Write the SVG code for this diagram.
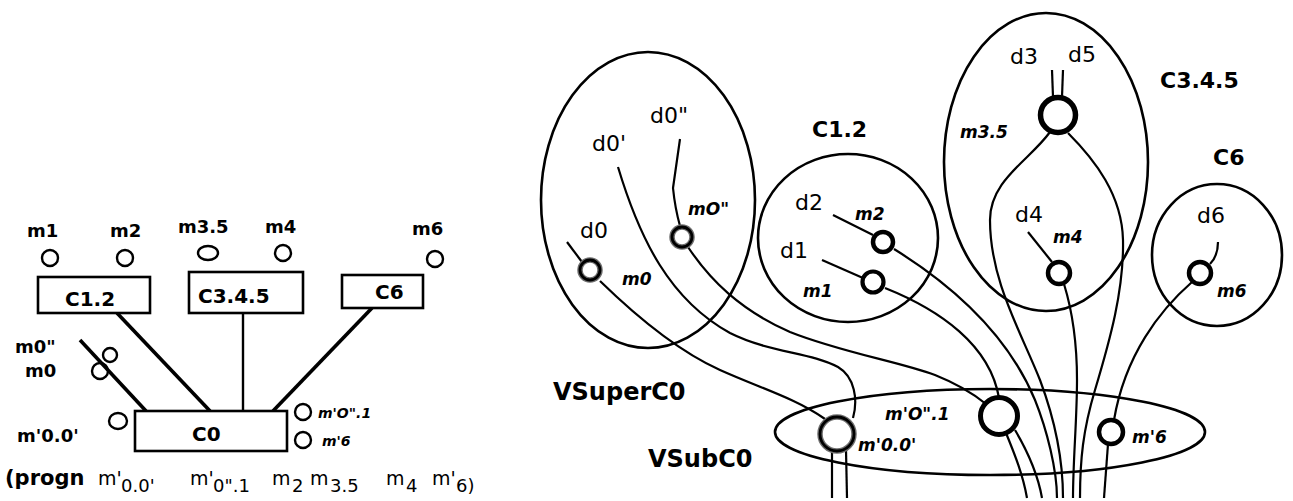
<svg xmlns="http://www.w3.org/2000/svg" width="1293" height="501" viewBox="0 0 1293 501">
<style>
text{font-family:"DejaVu Sans","Liberation Sans",sans-serif;fill:#000}
.lb{font-weight:bold;font-size:18px}
.bx{font-weight:bold;font-size:20px}
.si{font-weight:bold;font-style:italic;font-size:14px}
.d{font-size:22px}
.it{font-weight:bold;font-style:italic;font-size:17px}
.big{font-weight:bold;font-size:24px}
.cl{font-weight:bold;font-size:22px}
.pg{font-size:19px}
.ps{font-size:18px}
.pb{font-weight:bold;font-size:21px}
.box{fill:#fff;stroke:#000;stroke-width:2.6}
.e{fill:none;stroke:#000;stroke-width:2.6}
.ln{fill:none;stroke:#000;stroke-width:2.2}
.th{fill:none;stroke:#000;stroke-width:3.6}
.c{fill:#fff;stroke:#000;stroke-width:2.4}
.co{fill:none;stroke:#000;stroke-width:2.4}
.k{fill:#fff;stroke:#000}
.g1{fill:#fff;stroke:#6e6e6e;stroke-width:5.5}
.g2{fill:none;stroke:#000;stroke-width:2.8}
</style>
<rect width="1293" height="501" fill="#fff"/>

<!-- ===== Left diagram ===== -->
<g id="left-connectors">
<line class="th" x1="117" y1="313" x2="210" y2="411"/>
<line class="ln" x1="243" y1="313" x2="243" y2="411" style="stroke-width:2.4"/>
<line class="th" x1="372" y1="308" x2="273" y2="411"/>
<line class="th" x1="80" y1="340" x2="146" y2="411"/>
</g>
<g id="L-C1.2"><rect class="box" x="38" y="277" width="112" height="36"/><text class="bx" x="65" y="306">C1.2</text></g>
<g id="L-C3.4.5"><rect class="box" x="189" y="272" width="114" height="41"/><text class="bx" x="198" y="303">C3.4.5</text></g>
<g id="L-C6"><rect class="box" x="342" y="275" width="81" height="33"/><text class="bx" x="375" y="299">C6</text></g>
<g id="L-C0"><rect class="box" x="135" y="411" width="152" height="40"/><text class="bx" x="192" y="441">C0</text></g>

<g id="L-m1"><circle class="c" cx="50" cy="258" r="8"/><text class="lb" x="27" y="237">m1</text></g>
<g id="L-m2"><circle class="c" cx="125" cy="258" r="8"/><text class="lb" x="110" y="237">m2</text></g>
<g id="L-m3.5"><ellipse class="c" cx="208" cy="253" rx="10" ry="7"/><text class="lb" x="178" y="233">m3.5</text></g>
<g id="L-m4"><circle class="c" cx="283" cy="253" r="8"/><text class="lb" x="265" y="233">m4</text></g>
<g id="L-m6"><circle class="c" cx="435" cy="259" r="8"/><text class="lb" x="412" y="235">m6</text></g>
<g id="L-m0pp"><circle class="co" cx="110" cy="355" r="7"/><text class="lb" x="15" y="353">m0"</text></g>
<g id="L-m0"><circle class="co" cx="100" cy="371" r="8"/><text class="lb" x="25" y="377">m0</text></g>
<g id="L-m00"><ellipse class="c" cx="118" cy="421" rx="9" ry="8"/><text class="lb" x="17" y="442">m'0.0'</text></g>
<g id="L-m01"><circle class="c" cx="303" cy="412" r="8"/><text class="si" x="318" y="418">m'O".1</text></g>
<g id="L-m6p"><circle class="c" cx="303" cy="440" r="8"/><text class="si" x="322" y="446">m'6</text></g>

<g id="progn">
<text class="pb" x="5" y="485">(progn</text>
<text class="pg" x="98" y="485">m'</text><text class="ps" x="121" y="492">0.0'</text>
<text class="pg" x="190" y="485">m'</text><text class="ps" x="213" y="492">0".1</text>
<text class="pg" x="272" y="485">m</text><text class="ps" x="292" y="492">2</text>
<text class="pg" x="310" y="485">m</text><text class="ps" x="330" y="492">3.5</text>
<text class="pg" x="386" y="485">m</text><text class="ps" x="406" y="492">4</text>
<text class="pg" x="432" y="485">m'</text><text class="ps" x="456" y="492">6)</text>
</g>

<!-- ===== Right diagram ===== -->
<g id="VSuperC0"><ellipse class="e" cx="648" cy="200" rx="107" ry="148"/><text class="big" x="553" y="400">VSuperC0</text></g>
<g id="C1.2"><ellipse class="e" cx="848" cy="238" rx="90" ry="84"/><text class="cl" x="812" y="137">C1.2</text></g>
<g id="C3.4.5"><ellipse class="e" cx="1046" cy="162" rx="102" ry="149"/><text class="cl" x="1160" y="88">C3.4.5</text></g>
<g id="C6"><ellipse class="e" cx="1217" cy="255" rx="65" ry="71"/><text class="cl" x="1213" y="165">C6</text></g>
<g id="VSubC0"><ellipse class="e" cx="990" cy="432" rx="215" ry="43"/><text class="big" x="648" y="467">VSubC0</text></g>

<g id="connectors">
<path class="ln" d="M567,242 L582,262"/>
<path class="ln" d="M600,281 C640,320 680,352 720,370 C760,388 795,398 825,419"/>
<path class="ln" d="M618,167 C640,240 670,300 730,333 C770,353 810,352 838,367 C855,377 858,400 853,418"/>
<path class="ln" d="M680,139 L673,188 Q675,208 680,226"/>
<path class="ln" d="M688,247 C710,280 740,310 790,332 C840,352 900,362 935,375 C955,383 975,395 986,404"/>
<path class="ln" d="M833,215 L873,235"/>
<path class="ln" d="M822,260 L863,278"/>
<path class="ln" d="M894,249 C960,290 1010,340 1035,400 C1047,430 1057,470 1057,498"/>
<path class="ln" d="M885,288 C940,310 990,345 999,398"/>
<path class="ln" d="M1052,70 L1053,97"/>
<path class="ln" d="M1063,70 L1062,97"/>
<path class="ln" d="M1050,132 C1030,160 990,180 990,220 C990,280 1020,330 1040,380 C1055,420 1063,460 1063,498"/>
<path class="ln" d="M1068,133 C1095,160 1122,195 1123,240 C1124,290 1110,340 1095,390 C1083,430 1080,460 1080,498"/>
<path class="ln" d="M1028,232 L1052,262"/>
<path class="ln" d="M1064,284 C1072,310 1077,340 1077,380 C1077,420 1073,460 1073,498"/>
<path class="ln" d="M1218,242 C1218,252 1216,258 1210,264"/>
<path class="ln" d="M1192,282 C1160,310 1125,355 1114,420"/>
<path class="ln" d="M1108,444 L1104,498"/>
<path class="ln" d="M832,451 L832,498"/>
<path class="ln" d="M846,450 L847,498"/>
<path class="ln" d="M1006,433 C1015,455 1023,475 1027,498"/>
<path class="ln" d="M1015,430 C1028,452 1038,475 1042,498"/>
</g>

<g id="d0"><text class="d" x="580" y="238">d0</text></g>
<g id="d0p"><text class="d" x="592" y="151">d0'</text></g>
<g id="d0pp"><text class="d" x="650" y="123">d0"</text></g>
<g id="d1"><text class="d" x="780" y="258">d1</text></g>
<g id="d2"><text class="d" x="795" y="210">d2</text></g>
<g id="d3"><text class="d" x="1010" y="64">d3</text></g>
<g id="d5"><text class="d" x="1068" y="62">d5</text></g>
<g id="d4"><text class="d" x="1015" y="222">d4</text></g>
<g id="d6"><text class="d" x="1197" y="223">d6</text></g>

<g id="m0"><circle class="g1" cx="590" cy="270" r="10"/><circle class="g2" cx="590" cy="270" r="10"/><text class="it" x="622" y="285">m0</text></g>
<g id="mOpp"><circle class="g1" cx="682" cy="237" r="10"/><circle class="g2" cx="682" cy="237" r="10"/><text class="it" x="688" y="215">mO"</text></g>
<g id="m2"><circle class="k" cx="883" cy="242" r="10" stroke-width="4.5"/><text class="it" x="855" y="220">m2</text></g>
<g id="m1"><circle class="k" cx="873" cy="282" r="10.5" stroke-width="4.2"/><text class="it" x="803" y="297">m1</text></g>
<g id="m3.5"><circle class="k" cx="1058" cy="115" r="17.5" stroke-width="5.5"/><text class="it" x="960" y="138">m3.5</text></g>
<g id="m4"><circle class="k" cx="1059" cy="273" r="11" stroke-width="4.5"/><text class="it" x="1053" y="243">m4</text></g>
<g id="m6"><circle class="k" cx="1200" cy="273" r="11" stroke-width="4.5"/><text class="it" x="1217" y="297">m6</text></g>
<g id="mp00"><circle class="g1" cx="837" cy="434" r="17"/><circle class="g2" cx="837" cy="434" r="17"/><text class="it" x="858" y="451">m'0.0'</text></g>
<g id="mpO1"><circle class="k" cx="999" cy="416" r="18.5" stroke-width="5"/><text class="it" x="885" y="420">m'O".1</text></g>
<g id="mp6"><circle class="k" cx="1111" cy="432" r="12" stroke-width="4.5"/><text class="it" x="1132" y="443">m'6</text></g>
</svg>
